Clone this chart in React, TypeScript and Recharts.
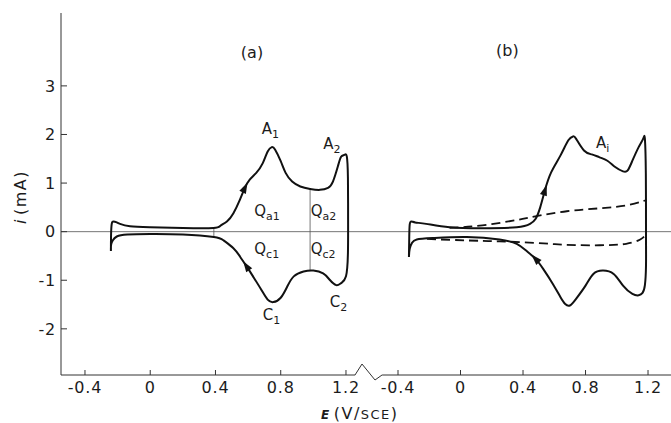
import React from 'react';
import { ComposedChart, Line, Scatter, XAxis, YAxis, ReferenceLine, ReferenceDot } from 'recharts';

// tick labels
const xTicks = [-0.4, 0, 0.4, 0.8, 1.2];
const yTicks = [-2, -1, 0, 1, 2, 3];

// (a) one full cycle, [E (V/SCE), i (mA)], starting at the negative vertex
const loopA: [number, number][] = [
  [-0.241, -0.4], [-0.24, -0.05], [-0.236, 0.16], [-0.226, 0.21], [-0.205, 0.19], [-0.185, 0.16],
  [-0.124, 0.11], [0, 0.09], [0.2, 0.076], [0.387, 0.076], [0.43, 0.12], [0.47, 0.21], [0.51, 0.38],
  [0.55, 0.66], [0.58, 0.9], [0.61, 1.07], [0.65, 1.21], [0.69, 1.41], [0.72, 1.65], [0.745, 1.74],
  [0.765, 1.69], [0.8, 1.45], [0.83, 1.21], [0.87, 1.03], [0.92, 0.93], [0.98, 0.88], [1.04, 0.86],
  [1.09, 0.9], [1.12, 1.03], [1.15, 1.34], [1.17, 1.54], [1.19, 1.58], [1.205, 1.55], [1.212, 1.1],
  [1.213, 0.25], [1.212, -0.44], [1.2, -0.92], [1.17, -1.06], [1.14, -1.1], [1.1, -0.99], [1.06, -0.86],
  [1.0, -0.8], [0.94, -0.82], [0.88, -0.92], [0.84, -1.13], [0.8, -1.36], [0.755, -1.45], [0.72, -1.4],
  [0.68, -1.19], [0.63, -0.92], [0.59, -0.71], [0.55, -0.51], [0.51, -0.34], [0.45, -0.18], [0.39, -0.11],
  [0.2, -0.06], [0, -0.05], [-0.14, -0.06], [-0.205, -0.1], [-0.23, -0.18], [-0.24, -0.27], [-0.241, -0.4],
];

// (b) solid cycle
const loopB: [number, number][] = [
  [-0.33, -0.52], [-0.328, -0.1], [-0.325, 0.15], [-0.315, 0.21], [-0.29, 0.19], [-0.22, 0.16],
  [-0.07, 0.09], [0.14, 0.07], [0.36, 0.09], [0.445, 0.16], [0.48, 0.26], [0.51, 0.5], [0.54, 0.85],
  [0.58, 1.22], [0.64, 1.57], [0.69, 1.88], [0.72, 1.96], [0.74, 1.91], [0.79, 1.67], [0.84, 1.59],
  [0.89, 1.53], [0.94, 1.46], [0.99, 1.33], [1.04, 1.24], [1.07, 1.26], [1.1, 1.46], [1.14, 1.74],
  [1.17, 1.92], [1.18, 1.91], [1.186, 1.2], [1.187, 0], [1.187, -0.7], [1.18, -1.1], [1.165, -1.26],
  [1.14, -1.31], [1.1, -1.28], [1.04, -1.11], [0.98, -0.87], [0.91, -0.8], [0.85, -0.87], [0.8, -1.11],
  [0.74, -1.38], [0.7, -1.52], [0.67, -1.49], [0.64, -1.35], [0.59, -1.07], [0.53, -0.77], [0.48, -0.56],
  [0.42, -0.39], [0.36, -0.25], [0.25, -0.16], [0.04, -0.11], [-0.17, -0.13], [-0.28, -0.16],
  [-0.31, -0.23], [-0.325, -0.35], [-0.33, -0.52],
];

// (b) dashed background curves
const dashUpB: [number, number][] = [
  [-0.07, 0.08], [0.14, 0.13], [0.36, 0.24], [0.47, 0.31], [0.68, 0.42], [0.89, 0.48], [1.06, 0.54],
  [1.15, 0.61], [1.19, 0.65],
];
const dashDownB: [number, number][] = [
  [-0.215, -0.15], [0.04, -0.18], [0.25, -0.2], [0.47, -0.23], [0.68, -0.27], [0.89, -0.28],
  [1.06, -0.25], [1.15, -0.16], [1.18, -0.08],
];

// points on the loops where the sweep arrows sit
const arrowAtA: [number, number][] = [[0.58, 0.9], [0.59, -0.71]];
const arrowAtB: [number, number][] = [[0.54, 0.85], [0.48, -0.56]];

// charge boundaries in (a)
const splitA: [number, number, number][] = [[0.98, 0.88, -0.8], [0.39, 0.076, -0.11]];

// annotations [E, i, text, subscript]
const labelsA: [number, number, string, string][] = [
  [0.684, 2.0, 'A', '1'], [1.061, 1.71, 'A', '2'], [0.638, 0.33, 'Q', 'a1'], [0.984, 0.33, 'Q', 'a2'],
  [0.638, -0.47, 'Q', 'c1'], [0.984, -0.47, 'Q', 'c2'], [0.69, -1.81, 'C', '1'], [1.1, -1.56, 'C', '2'],
];
const labelsB: [number, number, string, string][] = [[0.867, 1.72, 'A', 'i']];
const titleA: [number, number, string] = [0.624, 3.58, '(a)'];
const titleB: [number, number, string] = [0.3, 3.61, '(b)'];

const W = 671;
const H = 423;
const FONT = 'DejaVu Sans';
const INK = '#1c1c1c';
const TOP = 13;
const BOTTOM = 48; // margin + axis height
const PLOT_LEFT = 61;
const SPLIT = 368;
const Y_DOMAIN: [number, number] = [-2.95, 4.5];
const X_DOMAIN_A: [number, number] = [-0.547, 1.335];
const X_DOMAIN_B: [number, number] = [-0.592, 1.347];
const AXIS_END_A = 1.256;
const AXIS_START_B = -0.502;

const toRows = (pts: [number, number][]) => pts.map(([E, i]) => ({ E, i }));

const plotH = H - TOP - BOTTOM;
const kY = plotH / (Y_DOMAIN[1] - Y_DOMAIN[0]);
const kXA = (SPLIT - PLOT_LEFT) / (X_DOMAIN_A[1] - X_DOMAIN_A[0]);
const kXB = (W - SPLIT) / (X_DOMAIN_B[1] - X_DOMAIN_B[0]);

const makeArrows = (loop: [number, number][], at: [number, number][], kx: number) =>
  at.map(([E, i]) => {
    const k = loop.findIndex((p) => p[0] === E && p[1] === i);
    const a = loop[k - 1];
    const b = loop[k + 1];
    const angle = (Math.atan2(-(b[1] - a[1]) * kY, (b[0] - a[0]) * kx) * 180) / Math.PI;
    return { E, i, angle };
  });

const arrowsA = makeArrows(loopA, arrowAtA, kXA);
const arrowsB = makeArrows(loopB, arrowAtB, kXB);

const ArrowHead = (props: any) => {
  const { cx, cy, payload } = props;
  return (
    <polygon
      points="6,0 -5,-3.6 -5,3.6"
      transform={`translate(${cx},${cy}) rotate(${payload.angle})`}
      fill="#111"
    />
  );
};

const SubText = ({ x, y, main, sub }: { x: number; y: number; main: string; sub: string }) => (
  <text x={x} y={y} fontFamily={FONT} fontSize={15} fill={INK}>
    <tspan>{main}</tspan>
    <tspan dy={4} fontSize={11}>{sub}</tspan>
  </text>
);

const tickStyle = { fill: INK, fontSize: 16, fontFamily: FONT, letterSpacing: 0.8 };

const labelDots = (labels: [number, number, string, string][]) =>
  labels.map(([E, i, main, sub]) => (
    <ReferenceDot
      key={main + sub}
      x={E}
      y={i}
      r={0}
      shape={(p: any) => <SubText x={p.cx} y={p.cy} main={main} sub={sub} />}
    />
  ));

const titleDot = ([E, i, text]: [number, number, string]) => (
  <ReferenceDot
    x={E}
    y={i}
    r={0}
    shape={(p: any) => (
      <text x={p.cx} y={p.cy} textAnchor="middle" fontFamily={FONT} fontSize={16} fill={INK}>
        {text}
      </text>
    )}
  />
);

export default function App() {
  return (
    <div style={{ position: 'absolute', left: 0, top: 0, width: W, height: H, background: '#fff' }}>
      <div style={{ position: 'absolute', left: 0, top: 0 }}>
        <ComposedChart width={SPLIT} height={H} margin={{ top: TOP, right: 0, bottom: 18, left: 21 }}>
          <XAxis
            xAxisId="a"
            type="number"
            dataKey="E"
            domain={X_DOMAIN_A}
            allowDataOverflow
            ticks={xTicks}
            height={30}
            axisLine={false}
            tickSize={-5}
            tickMargin={12}
            tickLine={{ stroke: '#333' }}
            tick={tickStyle}
          />
          <YAxis
            type="number"
            domain={Y_DOMAIN}
            allowDataOverflow
            ticks={yTicks}
            width={40}
            tickSize={-6}
            tickMargin={11}
            axisLine={{ stroke: '#333' }}
            tickLine={{ stroke: '#333' }}
            tick={tickStyle}
          />
          <ReferenceLine xAxisId="a" y={0} stroke="#666" strokeWidth={0.9} />
          <ReferenceLine
            xAxisId="a"
            segment={[{ x: X_DOMAIN_A[0], y: Y_DOMAIN[0] }, { x: AXIS_END_A, y: Y_DOMAIN[0] }]}
            stroke="#333"
          />
          {splitA.map(([E, hi, lo]) => (
            <ReferenceLine
              key={E}
              xAxisId="a"
              segment={[{ x: E, y: hi }, { x: E, y: lo }]}
              stroke="#555"
              strokeWidth={0.8}
            />
          ))}
          <Line
            xAxisId="a"
            data={toRows(loopA)}
            dataKey="i"
            type="natural"
            stroke="#111"
            strokeWidth={2}
            dot={false}
            isAnimationActive={false}
          />
          <Scatter xAxisId="a" data={arrowsA} dataKey="i" shape={ArrowHead} isAnimationActive={false} />
          {labelDots(labelsA).map((d) => React.cloneElement(d, { xAxisId: 'a' }))}
          {React.cloneElement(titleDot(titleA), { xAxisId: 'a' })}
        </ComposedChart>
      </div>
      <div style={{ position: 'absolute', left: SPLIT, top: 0 }}>
        <ComposedChart width={W - SPLIT} height={H} margin={{ top: TOP, right: 0, bottom: 18, left: 0 }}>
          <XAxis
            xAxisId="b"
            type="number"
            dataKey="E"
            domain={X_DOMAIN_B}
            allowDataOverflow
            ticks={xTicks}
            height={30}
            axisLine={false}
            tickSize={-5}
            tickMargin={12}
            tickLine={{ stroke: '#333' }}
            tick={tickStyle}
          />
          <YAxis type="number" domain={Y_DOMAIN} allowDataOverflow hide />
          <ReferenceLine xAxisId="b" y={0} stroke="#666" strokeWidth={0.9} />
          <ReferenceLine
            xAxisId="b"
            segment={[{ x: AXIS_START_B, y: Y_DOMAIN[0] }, { x: X_DOMAIN_B[1], y: Y_DOMAIN[0] }]}
            stroke="#333"
          />
          <Line
            xAxisId="b"
            data={toRows(dashUpB)}
            dataKey="i"
            type="natural"
            stroke="#111"
            strokeWidth={1.8}
            strokeDasharray="9 5"
            dot={false}
            isAnimationActive={false}
          />
          <Line
            xAxisId="b"
            data={toRows(dashDownB)}
            dataKey="i"
            type="natural"
            stroke="#111"
            strokeWidth={1.8}
            strokeDasharray="9 5"
            dot={false}
            isAnimationActive={false}
          />
          <Line
            xAxisId="b"
            data={toRows(loopB)}
            dataKey="i"
            type="natural"
            stroke="#111"
            strokeWidth={2}
            dot={false}
            isAnimationActive={false}
          />
          <Scatter xAxisId="b" data={arrowsB} dataKey="i" shape={ArrowHead} isAnimationActive={false} />
          {labelDots(labelsB).map((d) => React.cloneElement(d, { xAxisId: 'b' }))}
          {React.cloneElement(titleDot(titleB), { xAxisId: 'b' })}
        </ComposedChart>
      </div>
      {/* axis break and axis titles */}
      <svg width={W} height={H} style={{ position: 'absolute', left: 0, top: 0, pointerEvents: 'none' }}>
        <polyline
          points={`${SPLIT - 13},${H - BOTTOM} ${SPLIT - 6},${H - BOTTOM - 11} ${SPLIT + 7},${H - BOTTOM + 5} ${SPLIT + 14},${H - BOTTOM}`}
          fill="none"
          stroke="#333"
          strokeWidth={1}
        />
        <text x={321} y={419} fontFamily={FONT} fontSize={16} fill={INK} letterSpacing={1.5}>
          <tspan fontStyle="italic" fontWeight="bold" fontSize={12}>E</tspan>
          <tspan dx={3}>(V/</tspan>
          <tspan fontSize={13}>SCE</tspan>
          <tspan>)</tspan>
        </text>
        <text
          transform={`translate(26,197) rotate(-90)`}
          textAnchor="middle"
          fontFamily={FONT}
          fontSize={16}
          fill={INK}
          letterSpacing={1.5}
        >
          <tspan fontStyle="italic">i</tspan>
          <tspan dx={3}>(mA)</tspan>
        </text>
      </svg>
    </div>
  );
}
